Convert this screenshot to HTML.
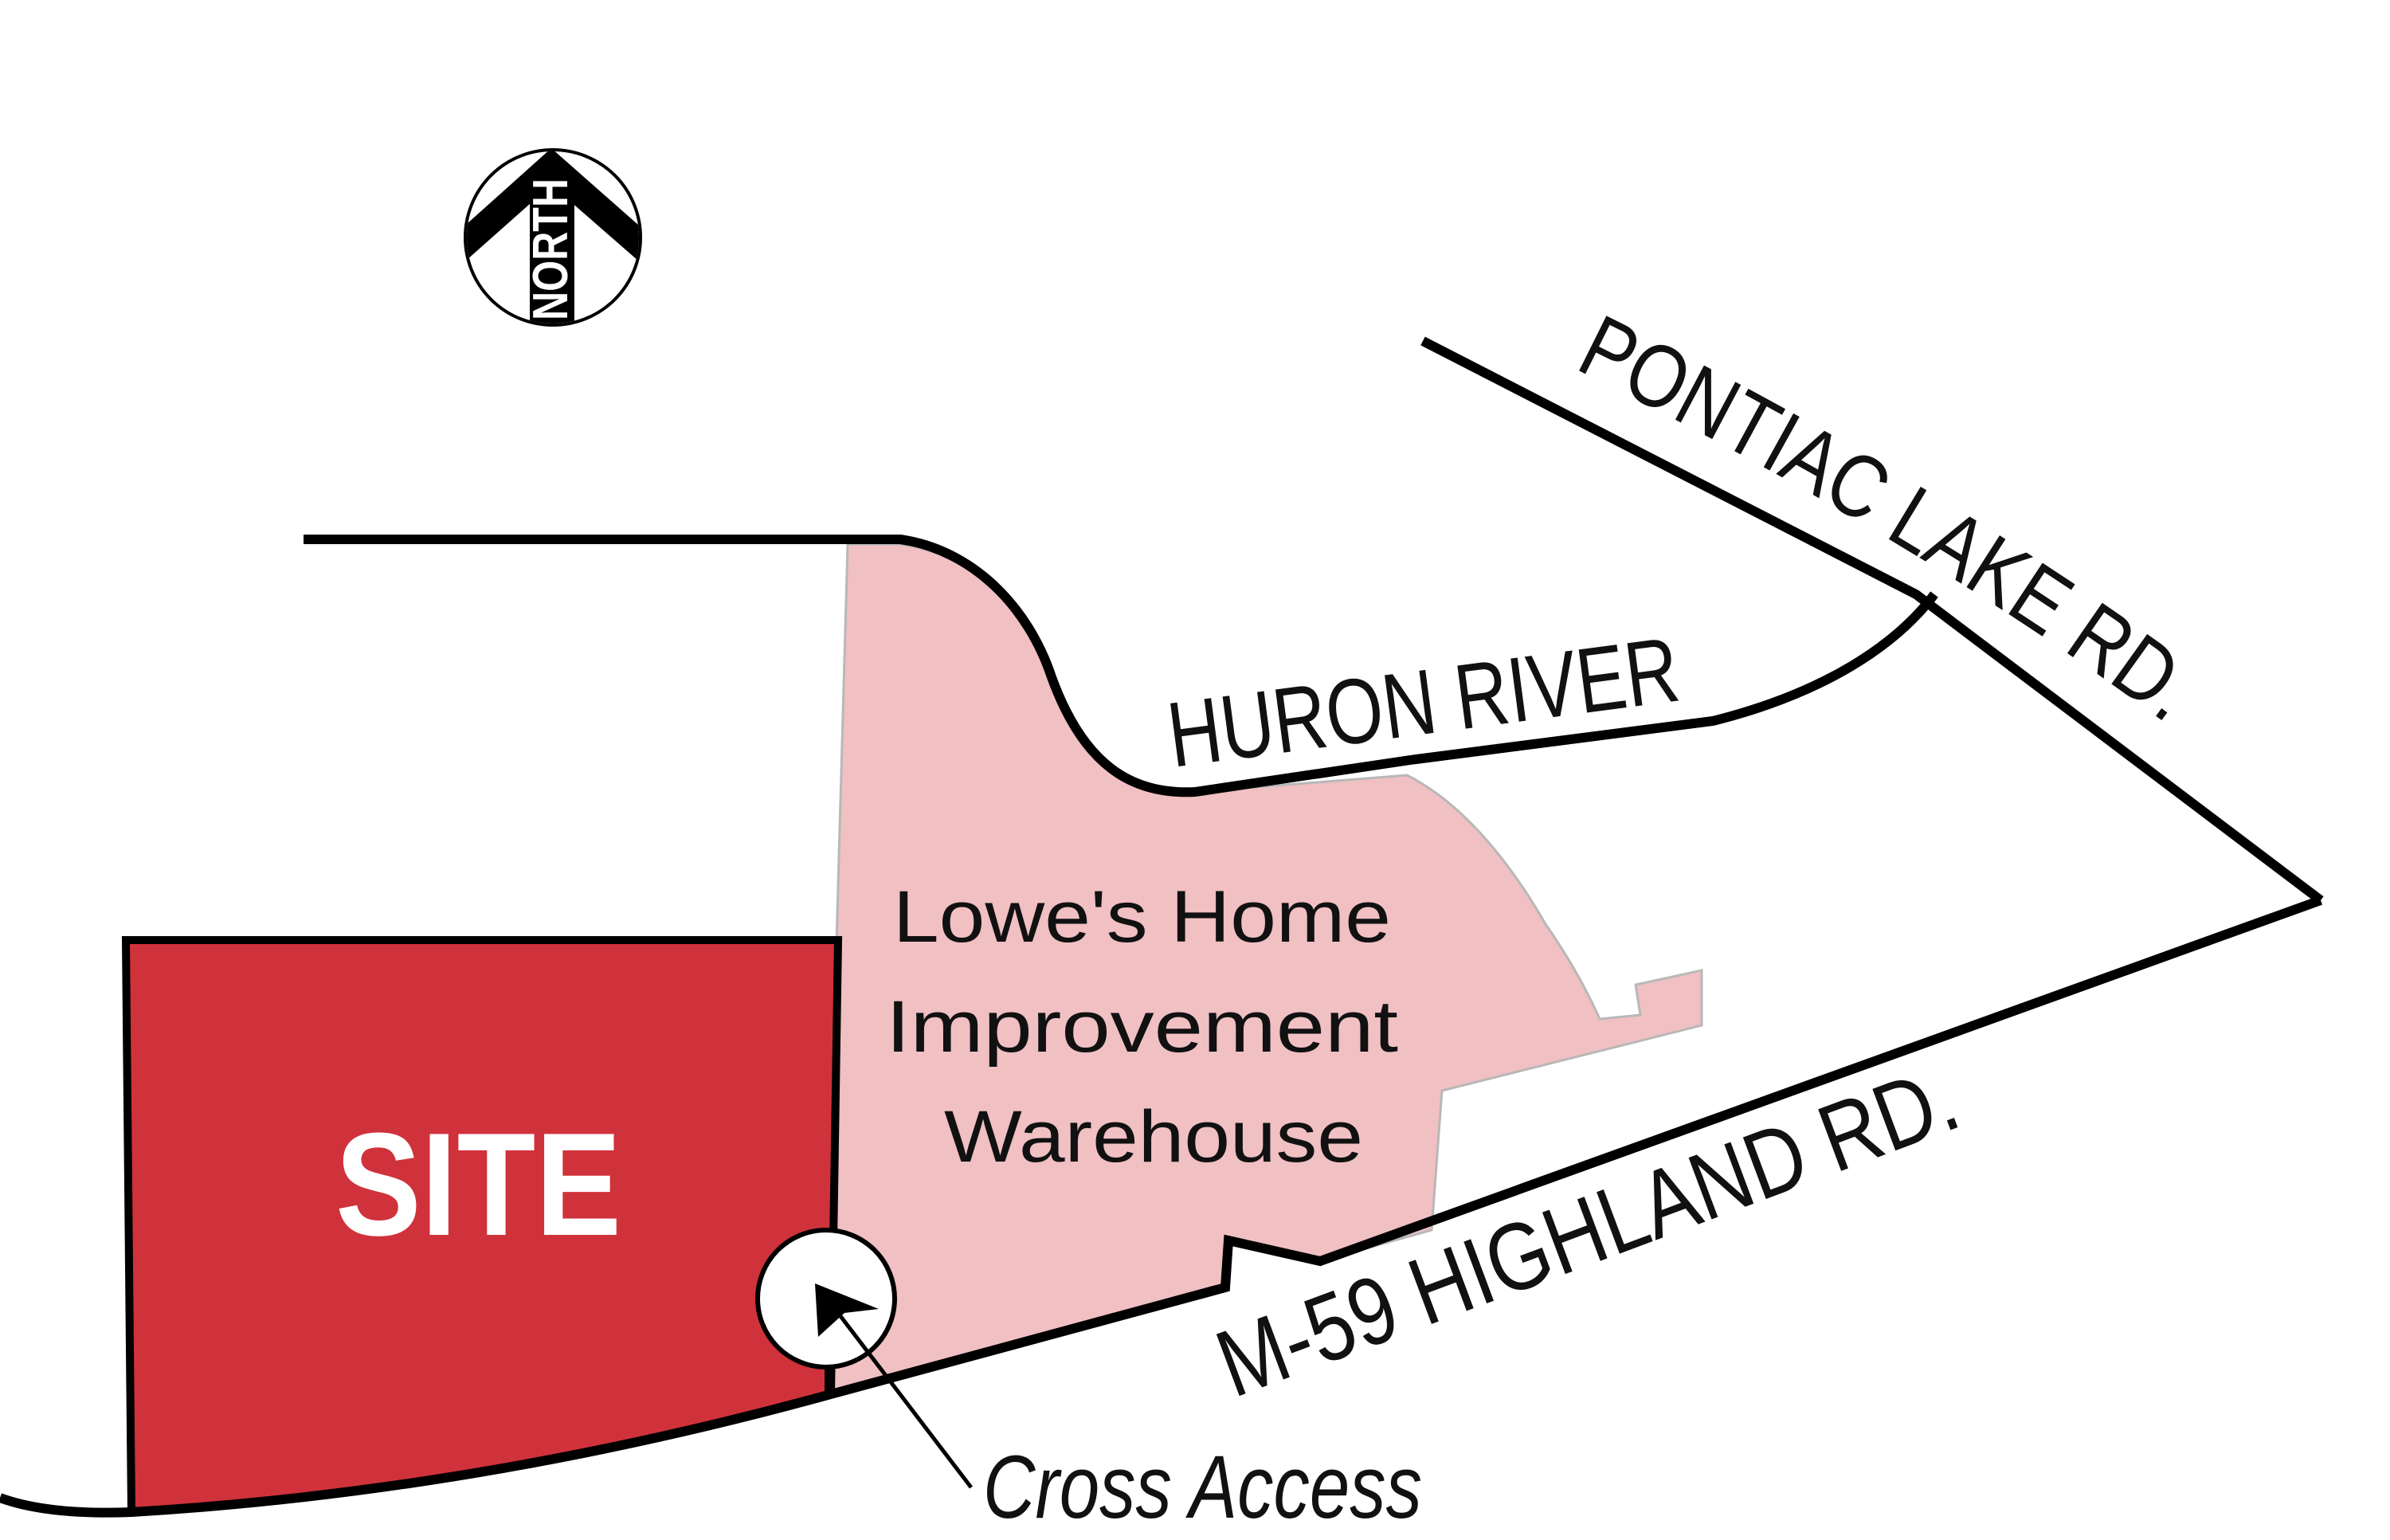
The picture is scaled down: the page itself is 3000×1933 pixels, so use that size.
<!DOCTYPE html>
<html><head><meta charset="utf-8"><style>html,body{margin:0;padding:0;background:#fff}svg{display:block}</style></head>
<body>
<svg width="3000" height="1933" viewBox="0 0 3000 1933" xmlns="http://www.w3.org/2000/svg" font-family="'Liberation Sans', sans-serif">
<rect width="3000" height="1933" fill="#fff"/>
<!-- pink Lowe's parcel -->
<path d="M1064 683 L1130 683 C1220 695 1290 765 1318 850 C1358 960 1420 998 1500 994 L1766 973 C1840 1010 1900 1090 1940 1160 C1975 1210 1995 1250 2008 1279 L2059 1274 L2053 1236 L2136 1218 L2136 1287 L1810 1369 L1797 1544 L1657 1583 L1542 1557 L1538 1616 L1040 1750 L1050 1184 Z" fill="#f0c0c3" stroke="#b8b8b8" stroke-width="3"/>
<!-- site -->
<path d="M158 1180 L1052 1180 L1043 1750 Q600 1872 165 1898 Z" fill="#d0323b" stroke="#000" stroke-width="10" stroke-linejoin="miter"/>
<!-- top line + river -->
<path d="M381 677 L1130 677 C1220 690 1290 760 1320 850 C1360 960 1420 998 1500 994 L1770 954 L2150 905 C2290 870 2380 810 2428 746" fill="none" stroke="#000" stroke-width="12"/>
<!-- pontiac -->
<path d="M1786 428 L2405 746 L2913 1130" fill="none" stroke="#000" stroke-width="12" stroke-linejoin="miter"/>
<!-- highland -->
<path d="M2913 1130 L1657 1583 L1542 1557 L1538 1616 L1043 1750 Q600 1872 165 1898 Q60 1902 0 1880" fill="none" stroke="#000" stroke-width="12" stroke-linejoin="miter"/>
<!-- cross access circle -->
<line x1="1039" y1="1700" x2="1039" y2="1752" stroke="#000" stroke-width="8"/>
<circle cx="1037" cy="1630" r="86" fill="#fff" stroke="#000" stroke-width="6"/>
<line x1="1055" y1="1652" x2="1219" y2="1867" stroke="#000" stroke-width="5"/>
<polygon points="1023,1611 1103,1643 1060,1648 1027,1678" fill="#000"/>
<!-- north arrow -->
<circle cx="694" cy="298" r="110" fill="#fff" stroke="#000" stroke-width="4"/>
<clipPath id="nc"><circle cx="694" cy="298" r="108"/></clipPath>
<g clip-path="url(#nc)">
<polygon points="692,186 810,290 810,335 692,232 576,335 576,290" fill="#000"/>
<rect x="665" y="220" width="56" height="200" fill="#000"/>
</g>
<text transform="translate(712,402) rotate(-90)" font-size="62" font-weight="bold" fill="#fff" textLength="178" lengthAdjust="spacingAndGlyphs">NORTH</text>
<!-- labels -->
<text x="421" y="1550" font-size="184" font-weight="bold" fill="#fff" textLength="359" lengthAdjust="spacingAndGlyphs">SITE</text>
<g font-size="92" fill="#111">
<text x="1121" y="1182" textLength="625" lengthAdjust="spacingAndGlyphs">Lowe's Home</text>
<text x="1112" y="1320" textLength="643" lengthAdjust="spacingAndGlyphs">Improvement</text>
<text x="1185" y="1458" textLength="526" lengthAdjust="spacingAndGlyphs">Warehouse</text>
</g>
<text x="1234" y="1905" font-size="112" font-style="italic" fill="#111" textLength="551" lengthAdjust="spacingAndGlyphs">Cross Access</text>
<text transform="translate(1472,963) rotate(-7.5)" font-size="116" fill="#111" textLength="645" lengthAdjust="spacingAndGlyphs">HURON RIVER</text>
<text transform="translate(1548,1755) rotate(-20.5)" font-size="120" fill="#111" textLength="980" lengthAdjust="spacingAndGlyphs">M-59 HIGHLAND RD.</text>
<path id="pp" d="M1975 462 Q2415 678 2755 935" fill="none"/>
<text font-size="112" fill="#111"><textPath href="#pp" textLength="870" lengthAdjust="spacingAndGlyphs">PONTIAC LAKE RD.</textPath></text>
</svg>
</body></html>
